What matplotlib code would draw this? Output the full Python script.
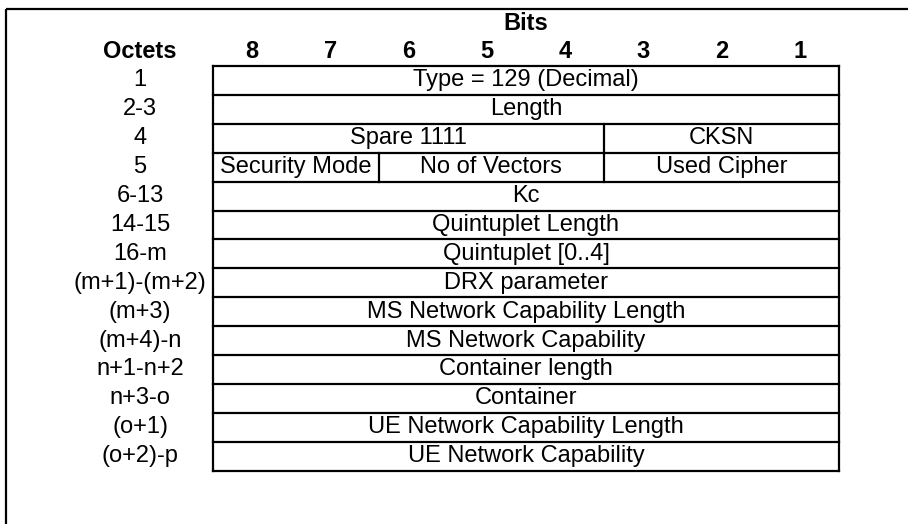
import matplotlib
matplotlib.use('Agg')
import matplotlib.pyplot as plt

plt.rcParams['font.family'] = ['Liberation Sans', 'DejaVu Sans']

# octet labels, one per table row
octets = ['1', '2-3', '4', '5', '6-13', '14-15', '16-m', '(m+1)-(m+2)',
          '(m+3)', '(m+4)-n', 'n+1-n+2', 'n+3-o', '(o+1)', '(o+2)-p']

# bit column headers
bits = ['8', '7', '6', '5', '4', '3', '2', '1']

# field names in each row and how many bit columns each spans
row_fields = [
    ['Type = 129 (Decimal)'],
    ['Length'],
    ['Spare 1111', 'CKSN'],
    ['Security Mode', 'No of Vectors', 'Used Cipher'],
    ['Kc'],
    ['Quintuplet Length'],
    ['Quintuplet [0..4]'],
    ['DRX parameter'],
    ['MS Network Capability Length'],
    ['MS Network Capability'],
    ['Container length'],
    ['Container'],
    ['UE Network Capability Length'],
    ['UE Network Capability'],
]
row_spans = [[8], [8], [5, 3], [2, 3, 3], [8], [8], [8], [8], [8], [8],
             [8], [8], [8], [8]]


def plot_octet_table(filepath='out.png'):
    fig = plt.figure(figsize=(9.08, 5.24), dpi=100)
    ax = fig.add_axes([0, 0, 1, 1])
    ax.set_xlim(0, 908)
    ax.set_ylim(524, 0)
    ax.axis('off')

    lw = 1.6
    fs = 17
    left, right = 213, 839
    top, row_h = 66, 28.9
    col_w = (right - left) / len(bits)
    # the Security Mode cell is a bit wider than two columns in the original
    shift = {(3, 0): 9}

    # outer frame (only top and left edges are visible)
    ax.plot([6, 908], [9, 9], color='black', lw=lw, solid_capstyle='butt')
    ax.plot([6, 6], [9, 524], color='black', lw=lw, solid_capstyle='butt')

    ax.text((left + right) / 2, 23, 'Bits', ha='center', va='center',
            fontsize=fs, fontweight='bold')
    ax.text(140, 52, 'Octets', ha='center', va='center',
            fontsize=fs, fontweight='bold')
    for i, b in enumerate(bits):
        ax.text(left + (i + 0.5) * col_w, 52, b, ha='center', va='center',
                fontsize=fs, fontweight='bold')

    n = len(octets)
    bottom = top + n * row_h
    for r in range(n + 1):
        y = top + r * row_h
        ax.plot([left, right], [y, y], color='black', lw=lw,
                solid_capstyle='projecting')
    ax.plot([left, left], [top, bottom], color='black', lw=lw)
    ax.plot([right, right], [top, bottom], color='black', lw=lw)

    for r, (label, names, spans) in enumerate(zip(octets, row_fields,
                                                  row_spans)):
        y0 = top + r * row_h
        yc = y0 + row_h / 2
        ax.text(140, yc, label, ha='center', va='center', fontsize=fs)
        pos = 0
        edges = [left]
        for k, s in enumerate(spans):
            pos += s
            edges.append(left + pos * col_w + shift.get((r, k), 0))
        edges[-1] = right
        for k, name in enumerate(names):
            x0, x1 = edges[k], edges[k + 1]
            ax.text((x0 + x1) / 2, yc, name, ha='center', va='center',
                    fontsize=fs)
            if k > 0:
                ax.plot([x0, x0], [y0, y0 + row_h], color='black', lw=lw)

    fig.savefig(filepath, dpi=100)
    plt.close(fig)
    return fig


plot_octet_table('out.png')
